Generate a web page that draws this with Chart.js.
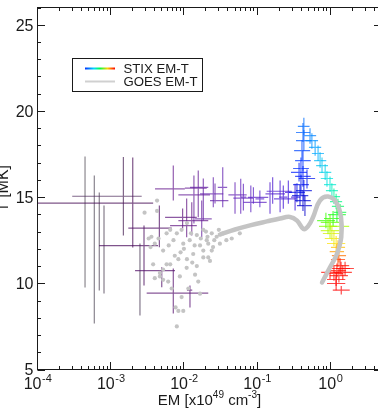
<!DOCTYPE html>
<html><head><meta charset="utf-8">
<style>
html,body{margin:0;padding:0;background:#fff;overflow:hidden;width:378px;height:411px}
#wrap{position:absolute;left:0;top:0;width:390px;height:411px}
</style>
<script src="https://cdn.jsdelivr.net/npm/chart.js@4/dist/chart.umd.min.js"></script>
</head><body><div id="wrap"><canvas id="c" width="390" height="411"></canvas></div>
<script>
// ---------------- DATA ----------------
// STIX EM-T points (time ordered), EM in 1e49 cm^-3, T in MK
const stixEM = [4.46e-4,5.97e-4,6.98e-4,8.1e-4,2.51e-3,1.49e-3,2.0e-3,2.85e-3,4.62e-3,4.98e-3,7.16e-3,1.21e-2,9.6e-3,1.09e-2,1.28e-2,7.16e-3,1.57e-2,1.37e-2,1.75e-2,1.84e-2,2.66e-2,2.52e-2,3.39e-2,4.99e-2,5.97e-2,6.49e-2,8.2e-2,8.9e-2,0.109,0.15,0.163,0.206,0.228,0.267,0.33,
 0.45,0.423,0.385,0.435,0.35,0.397,0.48,0.423,0.374,0.397,0.423,0.41,0.435,0.423,0.435,
 0.528,0.56,0.62,0.68,0.724,0.77,0.85,0.90,0.99,1.05,1.12,1.2,1.27,1.36,
 1.23,1.09,0.87,0.99,0.93,1.36,0.99,1.05,1.12,1.2,
 1.27,1.23,1.31,1.27,
 1.36,1.23,1.12,1.31,1.48,0.99,1.59,1.2,1.40,1.2,1.41];
const stixEMLo = [4.4e-4,5.9e-4,6.9e-4,8.0e-4,2.48e-3,2.98e-4,1e-5,6.93e-4,1.74e-3,2.15e-3,3.1e-3,1.1e-2,5.53e-3,6.47e-3,8.4e-3,4.03e-3,1.03e-2,8.4e-3,1.42e-2,1.21e-2,2.27e-2,1.66e-2,2.9e-2,4.05e-2,4.73e-2,6.0e-2,6.5e-2,7.5e-2,9.5e-2,0.13,0.135,0.17,0.20,0.24,0.29,
 0.35,0.33,0.30,0.34,0.27,0.31,0.37,0.33,0.29,0.31,0.33,0.32,0.34,0.34,0.36,
 0.44,0.46,0.51,0.56,0.60,0.64,0.70,0.74,0.82,0.87,0.93,0.99,1.05,1.12,
 0.93,0.82,0.66,0.74,0.70,1.02,0.74,0.79,0.84,0.90,
 1.02,0.98,1.05,1.02,
 1.02,0.92,0.84,0.98,1.11,0.75,1.2,0.90,1.05,0.9,1.08];
const stixEMHi = [4.5e-4,6.05e-4,7.05e-4,8.2e-4,2.54e-3,2.65e-3,3.8e-3,4.43e-3,6.82e-3,7.55e-3,2.15e-2,1.3e-2,1.5e-2,1.5e-2,2.15e-2,1.03e-2,2.05e-2,2.27e-2,2.4e-2,2.15e-2,4.05e-2,3.45e-2,3.9e-2,7.2e-2,8.9e-2,7.1e-2,0.135,0.142,0.125,0.24,0.297,0.347,0.26,0.30,0.39,
 0.56,0.54,0.50,0.56,0.45,0.51,0.62,0.54,0.48,0.51,0.54,0.53,0.56,0.53,0.52,
 0.64,0.68,0.75,0.82,0.88,0.93,1.03,1.09,1.2,1.27,1.36,1.45,1.54,1.65,
 1.63,1.45,1.16,1.32,1.24,1.81,1.32,1.4,1.49,1.6,
 1.59,1.54,1.64,1.59,
 1.81,1.64,1.49,1.74,1.97,1.32,2.1,1.6,1.86,1.6,1.84];
const stixT = [13.58,11.96,12.42,11.96,10.22,15.05,14.65,12.19,13.2,10.74,9.43,9.6,13.83,13.35,13.64,15.48,15.52,15.13,13.74,15.57,14.8,15.19,15.57,15.13,14.94,15.0,14.7,14.99,14.9,15.19,15.34,14.9,15.0,15.28,15.0,
 14.51,14.8,15.09,15.38,15.27,15.73,16.08,16.2,16.43,16.66,17.12,17.7,18.28,18.75,19.1,
 18.57,18.28,17.88,17.53,17.12,16.83,16.43,16.08,15.73,15.38,15.03,14.74,14.46,14.11,
 13.99,13.76,13.64,13.53,13.3,13.3,13.06,12.89,12.6,12.31,
 12.08,11.84,11.61,11.38,
 11.03,10.74,10.57,10.45,10.63,10.63,10.86,10.22,10.86,9.99,9.6];
const stixTLo = [9.76,7.67,9.58,9.41,8.13,12.77,12.08,9.87,12.09,9.77,8.25,8.6,13.18,12.67,12.77,14.8,13.83,13.47,12.67,13.64,14.63,14.41,14.41,14.03,14.03,14.22,14.12,14.61,14.41,14.03,14.61,14.12,14.32,14.61,14.22,
 13.9,14.2,14.5,14.8,14.7,15.1,15.5,15.6,15.9,16.1,16.5,17.1,17.7,18.2,18.6,
 18.1,17.8,17.4,17.1,16.7,16.4,16.0,15.6,15.3,14.9,14.6,14.3,14.0,13.7,
 13.55,13.3,13.2,13.1,12.85,12.85,12.6,12.45,12.15,11.85,
 11.65,11.4,11.2,10.95,
 10.6,10.35,10.15,10.05,10.2,10.25,10.45,9.85,10.45,9.6,9.35];
const stixTHi = [17.35,16.25,15.27,14.51,12.31,17.33,17.3,13.35,14.51,10.93,10.86,9.87,14.34,14.92,14.7,16.83,16.54,16.25,14.8,16.08,15.79,16.15,16.73,15.86,16.06,15.77,15.67,15.57,15.38,15.86,16.15,15.96,15.67,15.96,15.77,
 15.1,15.4,15.7,16.0,15.8,16.3,16.6,16.8,17.0,17.3,17.7,18.3,18.9,19.3,19.6,
 19.0,18.7,18.3,18.0,17.6,17.3,16.9,16.5,16.2,15.8,15.5,15.2,14.9,14.6,
 14.45,14.2,14.1,14.0,13.75,13.75,13.5,13.35,13.05,12.75,
 12.5,12.3,12.05,11.8,
 11.45,11.15,11.0,10.85,11.05,11.0,11.25,10.6,11.25,10.4,9.85];

// GOES EM-T: scattered early points
const goesDotEM = [2.9e-3,4.3e-3,4.3e-3,3.6e-3,4.0e-3,3.8e-3,4.0e-3,5.2e-3,4.7e-3,5.8e-3,6.8e-3,8.0e-3,8.4e-3,9.8e-3,9.3e-3,5.8e-3,4.5e-3,5.2e-3,6.5e-3,8.0e-3,9.3e-3,1.1e-2,7.2e-3,9.8e-3,1.2e-2,1.5e-2,1.84e-2,1.66e-2,1.34e-2,1.84e-2,1.5e-2,1.09e-2,8.4e-3,6.5e-3,5.2e-3,4.7e-3,6.1e-3,8.8e-3,1.15e-2,1.57e-2,1.66e-2,7.7e-3,1.42e-2,1.84e-2,2.15e-2,2.15e-2,2.05e-2,2.27e-2,2.5e-2,2.8e-2,3.1e-2,3.45e-2,3.8e-2,4.5e-2,5.8e-2,2.4e-2,3.0e-2,2.1e-2,3.3e-3,3.5e-3,1.0e-2,1.25e-2,1.4e-2,1.7e-2,2.0e-2,1.1e-2,1.3e-2,2.4e-2,2.6e-2,9.0e-3,7.5e-3,6.2e-3];
const goesDotT = [14.1,14.2,14.8,12.7,12.3,11.1,10.3,10.2,10.6,11.1,9.7,7.5,8.4,8.4,9.2,12.9,12.6,11.9,13.1,12.9,13.1,13.5,12.5,12.3,12.5,12.8,13.1,12.2,11.7,11.5,11.0,10.9,11.4,11.1,10.8,10.4,10.1,10.4,9.7,10.1,9.4,8.6,10.5,11.9,12.3,11.5,12.5,11.3,12.1,12.7,12.3,12.9,12.5,12.6,12.9,12.9,13.1,12.7,12.6,12.1,12.0,12.9,12.2,12.6,13.0,11.4,11.2,11.9,12.5,11.8,11.6,12.2];
// GOES EM-T: continuous track
const goesCurveEM = [0.031,0.05,0.08,0.136,0.206,0.281,0.351,0.43,0.495,0.58,0.72,0.93,1.2,1.40,1.41,1.23,0.99,0.77];
const goesCurveT  = [12.83,13.12,13.36,13.59,13.76,13.85,13.64,13.15,13.30,13.83,14.8,15.03,14.7,13.83,12.67,11.7,10.93,10.05];

// Axes
const xMin = 1e-4, xMax = 5, yMin = 5, yMax = 26;
const xTickExps = [-4,-3,-2,-1,0];
const yTickLabels = [5,10,15,20,25];
const legendLabels = ['STIX EM-T','GOES EM-T'];
const xTitle = ['EM [x10','49',' cm','-3',']'];
const yTitle = 'T [MK]';

// ---------------- STYLE ----------------
const FONT = '"Liberation Sans", Arial, Helvetica, sans-serif';
const cmapStops = [
 [0.00,[95,90,100]],[0.045,[85,70,95]],[0.07,[75,15,90]],[0.16,[105,30,140]],
 [0.28,[100,40,190]],[0.385,[60,20,220]],[0.40,[0,0,200]],[0.49,[0,30,255]],
 [0.557,[0,110,255]],[0.60,[0,170,255]],[0.655,[0,230,220]],[0.70,[0,250,120]],
 [0.74,[30,255,0]],[0.785,[170,255,0]],[0.83,[255,225,0]],[0.855,[255,150,0]],
 [0.885,[255,20,0]],[1.0,[255,0,0]]];
function cmap(t, a){
  for(let k=1;k<cmapStops.length;k++){
    if(t<=cmapStops[k][0]){
      const [t0,c0]=cmapStops[k-1],[t1,c1]=cmapStops[k];
      const f=(t-t0)/(t1-t0);
      const c=c0.map((v,j)=>Math.round(v+(c1[j]-v)*f));
      return `rgba(${c[0]},${c[1]},${c[2]},${a})`;
    }
  }
  return `rgba(255,0,0,${a})`;
}

const errorBars = {
  id:'errorBars',
  beforeDatasetsDraw(chart){
    const {ctx, chartArea:a, scales:{x,y}} = chart;
    ctx.save();
    ctx.beginPath(); ctx.rect(a.left,a.top,a.right-a.left,a.bottom-a.top); ctx.clip();
    ctx.lineWidth = 1.2;
    const n = stixEM.length;
    for(let i=0;i<n;i++){
      ctx.strokeStyle = cmap(i/(n-1), 0.72);
      const px = x.getPixelForValue(stixEM[i]);
      const py = y.getPixelForValue(stixT[i]);
      ctx.beginPath();
      ctx.moveTo(x.getPixelForValue(stixEMLo[i]), py);
      ctx.lineTo(x.getPixelForValue(stixEMHi[i]), py);
      ctx.moveTo(px, y.getPixelForValue(stixTLo[i]));
      ctx.lineTo(px, y.getPixelForValue(stixTHi[i]));
      ctx.stroke();
    }
    ctx.restore();
  }
};

const frame = {
  id:'frame',
  afterDraw(chart){
    const {ctx, chartArea:a, scales:{x,y}} = chart;
    ctx.save();
    ctx.strokeStyle = '#1a1a1a'; ctx.lineWidth = 1;
    ctx.strokeRect(a.left, a.top, a.right-a.left, a.bottom-a.top);
    ctx.beginPath();
    for(let v=yMin; v<=yMax; v++){
      const L = (v%5===0)?7.5:3.5;
      const py = Math.round(y.getPixelForValue(v))+0.5;
      ctx.moveTo(a.left,py); ctx.lineTo(a.left+L,py);
      ctx.moveTo(a.right,py); ctx.lineTo(a.right-L,py);
    }
    for(let d=-4; d<=0; d++){
      for(let m=1;m<=9;m++){
        const v = m*Math.pow(10,d);
        if(v<xMin*0.999 || v>xMax) continue;
        const L = (m===1)?7.5:3.5;
        const px = Math.round(x.getPixelForValue(v)-0.5)+0.5;
        ctx.moveTo(px,a.bottom); ctx.lineTo(px,a.bottom-L);
        ctx.moveTo(px,a.top); ctx.lineTo(px,a.top+L);
      }
    }
    ctx.stroke();

    ctx.fillStyle = '#1a1a1a';
    ctx.font = '16px '+FONT; ctx.textAlign='right'; ctx.textBaseline='alphabetic';
    yTickLabels.forEach(v=>{
      ctx.fillText(String(v), a.left-4, y.getPixelForValue(v)+5.8);
    });
    xTickExps.forEach(e=>{
      const px = x.getPixelForValue(Math.pow(10,e));
      ctx.font = '16px '+FONT; const w1 = ctx.measureText('10').width;
      ctx.font = '11px '+FONT; const w2 = ctx.measureText(String(e)).width;
      const x0 = px - (w1+w2)/2;
      ctx.textAlign='left';
      ctx.font = '16px '+FONT; ctx.fillText('10', x0, a.bottom+19);
      ctx.font = '11px '+FONT; ctx.fillText(String(e), x0+w1+0.5, a.bottom+12);
    });
    const parts = xTitle.map((s,k)=>({s, sup: k===1||k===3}));
    let tw = 0;
    parts.forEach(p=>{ ctx.font=(p.sup?'10px ':'15px ')+FONT; p.w=ctx.measureText(p.s).width; tw+=p.w; });
    let cx = (a.left+a.right)/2 - tw/2;
    parts.forEach(p=>{
      ctx.font=(p.sup?'10px ':'15px ')+FONT;
      ctx.fillText(p.s, cx, p.sup ? a.bottom+28 : a.bottom+35);
      cx += p.w;
    });
    ctx.save();
    ctx.translate(8, (a.top+a.bottom)/2);
    ctx.rotate(-Math.PI/2);
    ctx.textAlign='center'; ctx.font='16px '+FONT;
    ctx.fillText(yTitle, 0, 0);
    ctx.restore();

    ctx.strokeStyle='#1a1a1a'; ctx.lineWidth=1;
    ctx.strokeRect(72.5, 58.5, 130, 33);
    const g = ctx.createLinearGradient(85,0,115,0);
    g.addColorStop(0,'#0030ff'); g.addColorStop(0.3,'#00d8ff'); g.addColorStop(0.5,'#00ff40');
    g.addColorStop(0.75,'#ffd000'); g.addColorStop(1,'#ff0000');
    ctx.strokeStyle=g; ctx.lineWidth=2;
    ctx.beginPath(); ctx.moveTo(85,68.5); ctx.lineTo(115,68.5); ctx.stroke();
    ctx.strokeStyle='#d0d0d0'; ctx.lineWidth=2;
    ctx.beginPath(); ctx.moveTo(85,81.5); ctx.lineTo(115,81.5); ctx.stroke();
    ctx.fillStyle='#1a1a1a'; ctx.font='13.2px '+FONT; ctx.textAlign='left';
    ctx.fillText(legendLabels[0], 123.5, 73.3);
    ctx.fillText(legendLabels[1], 123.5, 86.2);
    ctx.restore();
  }
};

new Chart(document.getElementById('c'), {
  type:'scatter',
  data:{ datasets:[
    { label:'STIX EM-T', data: stixEM.map((v,i)=>({x:v,y:stixT[i]})), pointRadius:0, showLine:false },
    { label:'GOES EM-T dots', data: goesDotEM.map((v,i)=>({x:v,y:goesDotT[i]})), pointRadius:2.1,
      backgroundColor:'#c4c4c4', borderWidth:0, showLine:false },
    { label:'GOES EM-T', data: goesCurveEM.map((v,i)=>({x:v,y:goesCurveT[i]})), pointRadius:0,
      showLine:true, borderColor:'#c4c4c4', borderWidth:4.5, tension:0.4, borderCapStyle:'round', borderJoinStyle:'round' }
  ]},
  options:{
    responsive:false, animation:false, devicePixelRatio:1,
    layout:{ padding:{ left:37.5, top:7.5, right:8.5, bottom:41.5 } },
    plugins:{ legend:{display:false}, tooltip:{enabled:false} },
    scales:{
      x:{ type:'logarithmic', min:xMin, max:xMax, display:false },
      y:{ type:'linear', min:yMin, max:yMax, display:false }
    }
  },
  plugins:[errorBars, frame]
});
</script>
</body></html>
